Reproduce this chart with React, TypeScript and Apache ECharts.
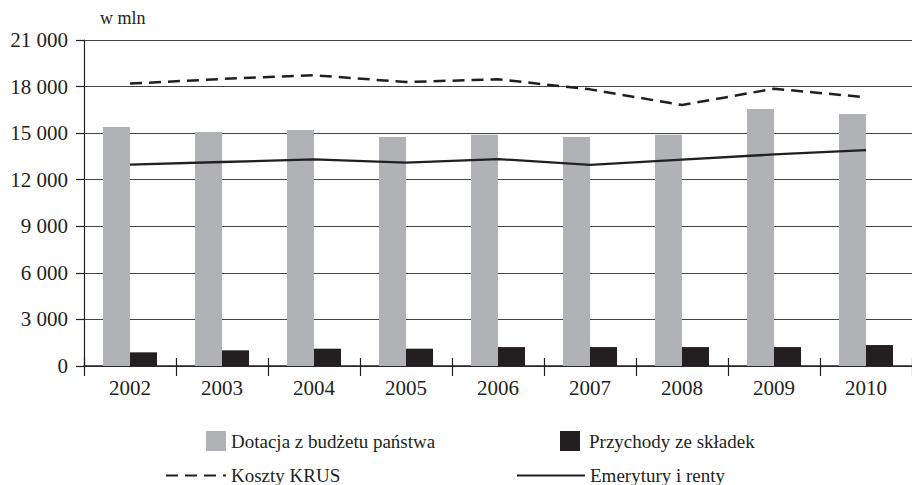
import React, { useEffect, useRef } from "react";
import * as echarts from "echarts";

const years = ["2002", "2003", "2004", "2005", "2006", "2007", "2008", "2009", "2010"];
const dotacja = [15400, 15070, 15200, 14750, 14900, 14750, 14900, 16550, 16230];
const skladki = [880, 1010, 1115, 1115, 1220, 1220, 1220, 1220, 1350];
const koszty = [18190, 18490, 18730, 18290, 18470, 17820, 16810, 17860, 17310];
const emerytury = [12970, 13140, 13310, 13100, 13330, 12950, 13290, 13630, 13910];
const yTicks = [0, 3000, 6000, 9000, 12000, 15000, 18000, 21000];

const NAMES = {
  dot: "Dotacja z budżetu państwa",
  skl: "Przychody ze składek",
  kos: "Koszty KRUS",
  eme: "Emerytury i renty",
};

const FONT = "'Liberation Serif', 'DejaVu Serif', serif";
const INK = "#231f20";

export default function App() {
  const ref = useRef<HTMLDivElement>(null);
  useEffect(() => {
    if (!ref.current) return;
    const chart = echarts.init(ref.current, undefined, { renderer: "svg" });
    const legendText = { fontFamily: FONT, fontSize: 19, color: INK };
    chart.setOption({
      animation: false,
      title: {
        text: "w mln",
        left: 100,
        top: 9,
        padding: 0,
        textStyle: { fontFamily: FONT, fontSize: 18, fontWeight: "normal", color: INK },
      },
      grid: { left: 84, top: 40, bottom: 119, width: 834 },
      xAxis: [
        {
          type: "category",
          data: years,
          position: "bottom",
          axisLine: { lineStyle: { color: INK, width: 1.5 } },
          axisTick: { show: true, length: 10, inside: false, lineStyle: { color: INK, width: 1.2 } },
          axisLabel: { fontFamily: FONT, fontSize: 21, color: INK, margin: 11 },
        },
        {
          type: "category",
          data: years,
          position: "bottom",
          axisLine: { show: false },
          axisTick: { show: true, length: 8, inside: true, lineStyle: { color: INK, width: 1.2 } },
          axisLabel: { show: false },
        },
      ],
      yAxis: {
        type: "value",
        min: yTicks[0],
        max: yTicks[yTicks.length - 1],
        interval: 3000,
        axisLine: { show: true, lineStyle: { color: INK, width: 1.2 } },
        axisTick: { show: true, length: 8, lineStyle: { color: INK, width: 1.2 } },
        splitLine: { lineStyle: { color: "#444", width: 1.2 } },
        axisLabel: {
          fontFamily: FONT,
          fontSize: 21,
          color: INK,
          margin: 16,
          formatter: (v: number) => String(v).replace(/\B(?=(\d{3})+(?!\d))/g, " "),
        },
      },
      legend: [
        {
          data: [NAMES.dot],
          left: 206,
          top: 431,
          padding: 0,
          itemWidth: 20,
          itemHeight: 20,
          icon: "rect",
          textStyle: legendText,
        },
        {
          data: [NAMES.skl],
          left: 560,
          top: 431,
          padding: 0,
          itemWidth: 20,
          itemHeight: 20,
          icon: "rect",
          textStyle: { ...legendText, padding: [0, 0, 0, 4] },
        },
        {
          data: [NAMES.kos],
          left: 165,
          top: 466,
          padding: 0,
          itemWidth: 60,
          itemHeight: 14,
          itemStyle: { opacity: 0 },
          textStyle: legendText,
        },
        {
          data: [NAMES.eme],
          left: 516,
          top: 466,
          padding: 0,
          itemWidth: 68,
          itemHeight: 14,
          itemStyle: { opacity: 0 },
          textStyle: legendText,
        },
      ],
      series: [
        {
          name: NAMES.dot,
          type: "bar",
          data: dotacja,
          barWidth: 27,
          barGap: "0%",
          itemStyle: { color: "#b1b2b5" },
        },
        {
          name: NAMES.skl,
          type: "bar",
          data: skladki,
          barWidth: 27,
          barGap: "0%",
          itemStyle: { color: INK },
        },
        {
          name: NAMES.kos,
          type: "line",
          data: koszty,
          symbol: "none",
          lineStyle: { color: INK, width: 2.5, type: [12, 7] },
          itemStyle: { color: INK },
        },
        {
          name: NAMES.eme,
          type: "line",
          data: emerytury,
          symbol: "none",
          lineStyle: { color: INK, width: 2.3 },
          itemStyle: { color: INK },
        },
      ],
    });
    return () => chart.dispose();
  }, []);
  return (
    <div
      ref={ref}
      style={{ position: "absolute", left: 0, top: 0, width: 912, height: 485 }}
    />
  );
}
